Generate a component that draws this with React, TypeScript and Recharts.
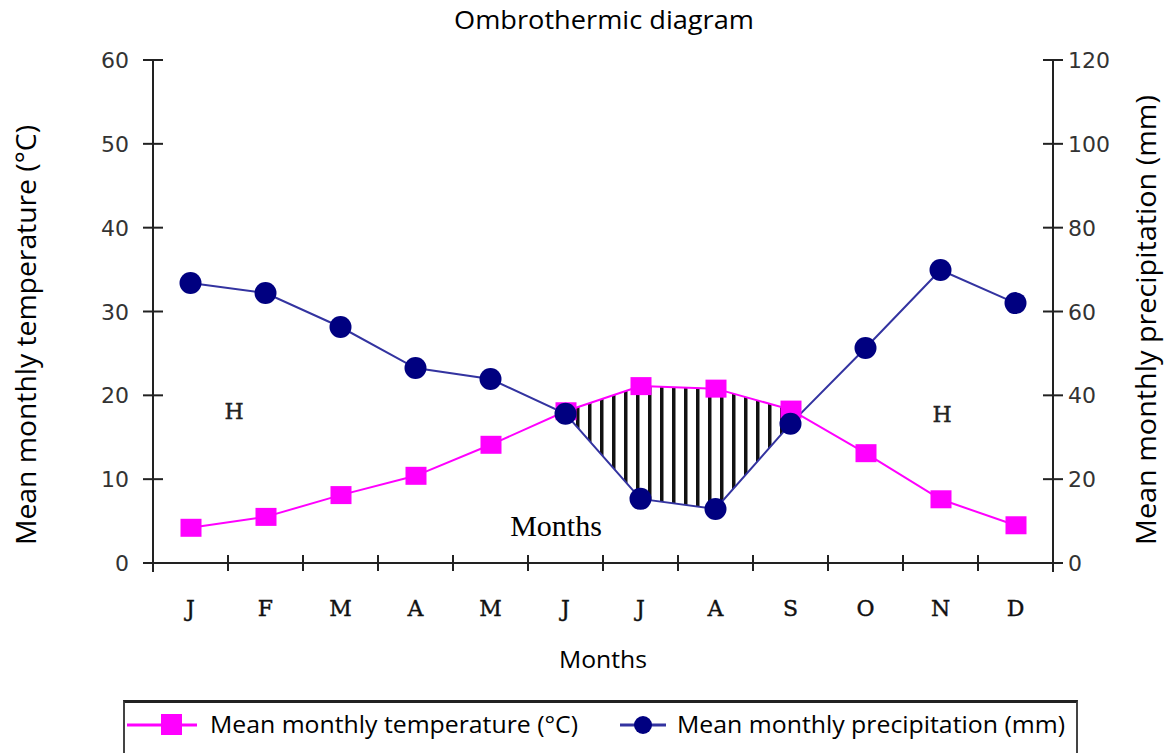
import React from 'react';
import { ComposedChart, Line, Area, XAxis, YAxis, Legend } from 'recharts';

const months = ['Jan', 'Feb', 'Mar', 'Apr', 'May', 'Jun', 'Jul', 'Aug', 'Sep', 'Oct', 'Nov', 'Dec'];
const monthLabels = ['J', 'F', 'M', 'A', 'M', 'J', 'J', 'A', 'S', 'O', 'N', 'D'];
const temperature = [4.2, 5.5, 8.1, 10.4, 14.1, 18.1, 21.1, 20.8, 18.3, 13.1, 7.6, 4.5];
const precipitation = [66.8, 64.4, 56.3, 46.5, 43.9, 35.6, 15.3, 12.9, 33.2, 51.3, 69.9, 62.0];
const tempTicks = [0, 10, 20, 30, 40, 50, 60];
const precipTicks = [0, 20, 40, 60, 80, 100, 120];
const dryMonths = ['Jun', 'Jul', 'Aug', 'Sep'];

const data = months.map((m, i) => ({
  month: m,
  label: monthLabels[i],
  temperature: temperature[i],
  precipitation: precipitation[i],
  dry: dryMonths.includes(m) ? [precipitation[i], temperature[i] * 2] : null,
}));

const TEMP_COLOR = '#FF00FF';
const PRECIP_LINE = '#3333A0';
const PRECIP_DOT = '#000080';
const AXIS = '#222';
const SANS = '"Open Sans", sans-serif';

const LeftTick = (props: any) => {
  const { x, y, payload } = props;
  return (
    <g>
      <line x1={x - 10} x2={x + 10} y1={y} y2={y} stroke={AXIS} strokeWidth={2} />
      {payload.value === 0 && <line x1={x} x2={x} y1={y} y2={y + 9} stroke={AXIS} strokeWidth={2} />}
      <text x={x - 24} y={y} dy={8} textAnchor="end" fontSize={22} fill="#333" fontFamily="DejaVu Sans">
        {payload.value}
      </text>
    </g>
  );
};

const RightTick = (props: any) => {
  const { x, y, payload } = props;
  return (
    <g>
      <line x1={x - 10} x2={x + 10} y1={y} y2={y} stroke={AXIS} strokeWidth={2} />
      {payload.value === 0 && <line x1={x} x2={x} y1={y} y2={y + 9} stroke={AXIS} strokeWidth={2} />}
      <text x={x + 15} y={y} dy={8} textAnchor="start" fontSize={22} fill="#333" fontFamily="DejaVu Sans">
        {payload.value}
      </text>
    </g>
  );
};

const BottomTick = (props: any) => {
  const { x, y, index } = props;
  return (
    <g>
      <line x1={x - 37.5} x2={x - 37.5} y1={y - 8} y2={y + 8} stroke={AXIS} strokeWidth={2} />
      <text x={x} y={y + 53} textAnchor="middle" fontSize={22} fill="#111" stroke="#111" strokeWidth={0.4} fontFamily="DejaVu Serif">
        {monthLabels[index]}
      </text>
    </g>
  );
};

const SquareDot = (props: any) => {
  const { cx, cy, index } = props;
  if (cx == null || cy == null) return <g key={`s${index}`} />;
  return <rect key={`s${index}`} x={cx - 10} y={cy - 9} width={21} height={18} fill={TEMP_COLOR} />;
};

const RoundDot = (props: any) => {
  const { cx, cy, index } = props;
  if (cx == null || cy == null) return <g key={`c${index}`} />;
  return <circle key={`c${index}`} cx={cx} cy={cy} r={11} fill={PRECIP_DOT} />;
};

const LegendBox = () => (
  <div
    style={{
      width: 955,
      height: 60,
      boxSizing: 'border-box',
      borderTop: '3px solid #222',
      borderLeft: '2px solid #444',
      borderRight: '2px solid #444',
      position: 'relative',
      fontFamily: SANS,
      fontSize: 22,
      color: '#000',
    }}
  >
    <svg width={955} height={55} style={{ position: 'absolute', left: -2, top: -3 }}>
      <line x1={4} x2={74} y1={25} y2={25} stroke={TEMP_COLOR} strokeWidth={3} />
      <rect x={38} y={14} width={21} height={21} fill={TEMP_COLOR} />
      <text x={87} y={33} fontSize={23} fontFamily={SANS} textLength={368} lengthAdjust="spacingAndGlyphs">
        Mean monthly temperature (°C)
      </text>
      <line x1={497} x2={543} y1={25} y2={25} stroke={PRECIP_LINE} strokeWidth={3} />
      <circle cx={520} cy={25} r={9} fill={PRECIP_DOT} />
      <text x={554} y={33} fontSize={23} fontFamily={SANS} textLength={388} lengthAdjust="spacingAndGlyphs">
        Mean monthly precipitation (mm)
      </text>
    </svg>
  </div>
);

export default function App() {
  return (
    <div style={{ position: 'absolute', left: 0, top: 0, width: 1165, height: 753, background: '#fff', overflow: 'hidden' }}>
      <ComposedChart
        width={1165}
        height={753}
        data={data}
        margin={{ top: 60, left: 93, right: 52, bottom: 90 }}
      >
        <defs>
          <pattern id="hatch" width="12" height="10" patternUnits="userSpaceOnUse">
            <rect x="0" y="0" width="3.5" height="10" fill="#111" />
          </pattern>
        </defs>
        <XAxis
          dataKey="month"
          scale="band"
          height={40}
          axisLine={{ stroke: AXIS, strokeWidth: 2 }}
          tickLine={false}
          tickSize={0}
          tickMargin={0}
          tick={<BottomTick />}
          interval={0}
        />
        <YAxis
          yAxisId="left"
          orientation="left"
          width={60}
          domain={[0, 60]}
          ticks={tempTicks}
          axisLine={{ stroke: AXIS, strokeWidth: 2 }}
          tickLine={false}
          tickSize={0}
          tickMargin={0}
          tick={<LeftTick />}
          interval={0}
        />
        <YAxis
          yAxisId="right"
          orientation="right"
          width={60}
          domain={[0, 120]}
          ticks={precipTicks}
          axisLine={{ stroke: AXIS, strokeWidth: 2 }}
          tickLine={false}
          tickSize={0}
          tickMargin={0}
          tick={<RightTick />}
          interval={0}
        />
        <Area
          yAxisId="right"
          dataKey="dry"
          type="linear"
          stroke="none"
          fill="url(#hatch)"
          fillOpacity={1}
          isAnimationActive={false}
          connectNulls={false}
          dot={false}
          activeDot={false}
        />
        <Line
          yAxisId="left"
          dataKey="temperature"
          type="linear"
          stroke={TEMP_COLOR}
          strokeWidth={2}
          dot={SquareDot}
          activeDot={false}
          isAnimationActive={false}
        />
        <Line
          yAxisId="right"
          dataKey="precipitation"
          type="linear"
          stroke={PRECIP_LINE}
          strokeWidth={2}
          dot={RoundDot}
          activeDot={false}
          isAnimationActive={false}
        />
        <Legend
          content={<LegendBox />}
          wrapperStyle={{ position: 'absolute', left: 123, top: 700, width: 955, height: 60 }}
        />
      </ComposedChart>
      <svg
        width={1165}
        height={753}
        style={{ position: 'absolute', left: 0, top: 0, pointerEvents: 'none' }}
      >
        <text x={604} y={29} textAnchor="middle" fontSize={25} fontFamily={SANS} fill="#000" textLength={300} lengthAdjust="spacingAndGlyphs">
          Ombrothermic diagram
        </text>
        <text
          transform="translate(36,335) rotate(-90)"
          textAnchor="middle"
          fontSize={27}
          fontFamily={SANS}
          fill="#000"
          textLength={420}
          lengthAdjust="spacingAndGlyphs"
        >
          Mean monthly temperature (°C)
        </text>
        <text
          transform="translate(1156,320) rotate(-90)"
          textAnchor="middle"
          fontSize={27}
          fontFamily={SANS}
          fill="#000"
          textLength={450}
          lengthAdjust="spacingAndGlyphs"
        >
          Mean monthly precipitation (mm)
        </text>
        <text x={603} y={668} textAnchor="middle" fontSize={23} fontFamily={SANS} fill="#000" textLength={88} lengthAdjust="spacingAndGlyphs">
          Months
        </text>
        <text x={556} y={536} textAnchor="middle" fontSize={30} fontFamily='"Liberation Serif", serif' fill="#000">
          Months
        </text>
        <text x={234} y={419} textAnchor="middle" fontSize={22} fontFamily='"DejaVu Serif", serif' fill="#222" stroke="#222" strokeWidth={0.4}>
          H
        </text>
        <text x={942} y={422} textAnchor="middle" fontSize={22} fontFamily='"DejaVu Serif", serif' fill="#222" stroke="#222" strokeWidth={0.4}>
          H
        </text>
      </svg>
    </div>
  );
}
